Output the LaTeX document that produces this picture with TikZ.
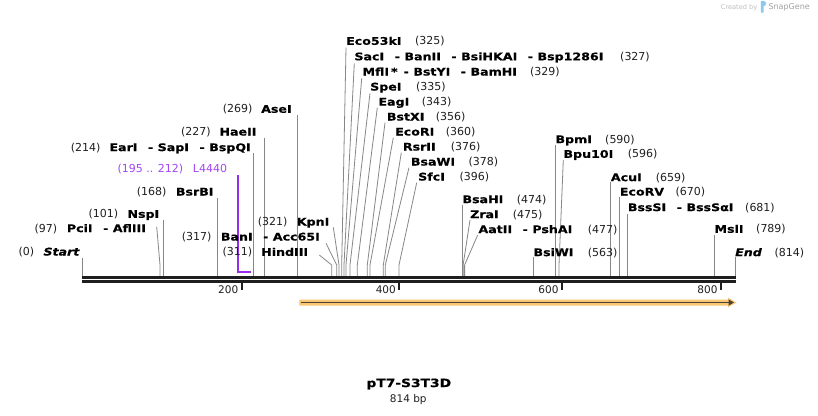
\documentclass[tikz,border=0pt]{standalone}
\usepackage{fontspec}
\setmainfont{DejaVu Sans}
\newfontfamily\enzfont{DejaVu Sans}[FakeStretch=1.2, BoldFeatures={FakeBold=0.6}, BoldItalicFeatures={FakeBold=0.6}]
\usetikzlibrary{arrows.meta}
\definecolor{leadgray}{RGB}{135,135,135}
\definecolor{axisdark}{RGB}{30,30,30}
\definecolor{purp}{RGB}{165,70,240}
\definecolor{purpline}{RGB}{150,45,235}
\definecolor{featorange}{RGB}{250,200,115}
\definecolor{featdark}{RGB}{75,65,55}
\definecolor{logogray}{RGB}{190,190,190}
\definecolor{logoblue}{RGB}{140,200,240}
\tikzset{
  enz/.style={inner sep=0pt, anchor=west, text height=7.6pt, text depth=0pt,
    font=\enzfont\fontsize{10.5}{12}\selectfont\bfseries},
  enzit/.style={enz, font=\enzfont\fontsize{10.5}{12}\selectfont\bfseries\itshape},
  num/.style={inner sep=0pt, anchor=west, text height=7.6pt, text depth=0pt,
    font=\fontsize{11}{12}\selectfont, text=black!88},
  ticklab/.style={inner sep=0pt, anchor=east, text height=7.6pt, text depth=0pt,
    font=\fontsize{10.5}{12}\selectfont, text=black!88},
  lead/.style={draw=leadgray, line width=0.8pt},
  axisline/.style={draw=axisdark, line width=2.6pt},
  tickline/.style={draw=axisdark, line width=1.8pt},
}
\newcommand\dsh{\hspace{10.5pt}-\hspace{4.5pt}}
\newcommand\mysite[4]{%
  \coordinate (#1-top) at (#3,#4);
  \coordinate (#1-cut) at (#2,276);
  \draw[lead] (#1-top) -- ([yshift=11pt]#1-cut) -- (#1-cut);}
\begin{document}
\begin{tikzpicture}[x=1pt,y=-1pt]
\fill[white] (0,0) rectangle (818,415);
\useasboundingbox (0,0) rectangle (818,415);

% logo
\node[inner sep=0pt, anchor=west, font=\fontsize{6.6}{8}\selectfont, text=logogray] (createdby) at (720.7,7.3) {Created by};
\fill[logoblue] (760.8,12.7) -- (760.8,1) -- (763.5,1) arc[start angle=90, end angle=-90, radius=2.6pt] -- (763.5,12.7) -- cycle;
\node[inner sep=0pt, anchor=west, font=\fontsize{8}{9}\selectfont, text=logogray!85!black] (snapgene) at (768.3,7.3) {SnapGene};

% leader lines
\mysite{start}{82.3}{82.3}{258}
\mysite{pci}{160}{156.7}{226.7}
\mysite{nsp}{163.3}{163.3}{220}
\mysite{bsrbi}{217.3}{217.3}{197.7}
\mysite{ear}{253.3}{253.3}{153}
\mysite{hae}{264.3}{264.3}{137.7}
\mysite{ase}{297.3}{297.3}{115}
\mysite{hind}{331.7}{319.3}{255}
\mysite{ban}{336.7}{326}{243.3}
\mysite{kpn}{339}{333.3}{227.3}
\mysite{ecofs}{341.7}{346}{47.7}
\mysite{sac}{344}{354.3}{63.3}
\mysite{mfl}{346}{361.7}{78.3}
\mysite{spe}{350}{370}{93.3}
\mysite{eag}{357.3}{377.3}{107.7}
\mysite{bstx}{367.3}{385}{122.7}
\mysite{ecori}{370}{393.3}{137.7}
\mysite{rsr}{383.3}{401.3}{152.7}
\mysite{bsaw}{385.3}{409}{167.7}
\mysite{sfc}{399}{416.7}{182.7}
\mysite{bsah}{462.3}{462.3}{205}
\mysite{zra}{463.1}{470}{220}
\mysite{aat}{464.6}{477.7}{235}
\mysite{bsiw}{533.3}{533.3}{256.7}
\mysite{bpm}{555.3}{555.3}{145}
\mysite{bpu}{559}{563.3}{160}
\mysite{acu}{610.7}{610.7}{182.3}
\mysite{ecorv}{619.7}{619.7}{197.3}
\mysite{bsss}{627.7}{627.7}{214}
\mysite{msl}{714.3}{714.3}{235}
\mysite{end}{735.7}{735.7}{256.7}

% L4440 bracket
\coordinate (l-top) at (237.7,175);
\coordinate (l-end) at (250.7,272.2);
\draw[purpline, line width=1.7pt] (l-top) -- (l-top |- l-end) -- (l-end);

% axis
\coordinate (ax-l) at (82,277.3);
\coordinate (ax-r) at (735.7,277.3);
\draw[axisline] (ax-l) -- (ax-r);
\draw[axisline] ([yshift=-4.2pt]ax-l) -- ([yshift=-4.2pt]ax-r);
\foreach \tx/\tl in {241.7/200, 399.3/400, 562/600, 721/800}{
  \draw[tickline] (\tx,283) -- (\tx,290);
  \node[ticklab] (tick\tl) at (\tx-3.3,289.3) {\tl};
}

% feature arrow
\fill[featorange] (299.3,299.5) -- (728,299.5) -- (728,297.8) -- (736.5,302.5) -- (728,307.2) -- (728,305.5) -- (299.3,305.5) -- cycle;
\draw[featdark, line width=1.8pt, -{Triangle[length=5.5pt,width=6pt]}] (300.5,302.5) -- (734,302.5);

% left labels
\node[num] (n-start) at (18.3,251.7) {(0)};
\node[enzit] (start) at (43.3,251.7) {Start};
\node[num] (n-pci) at (34.3,228.3) {(97)};
\node[enz] (pci) at (66.7,228.3) {PciI\dsh AflIII};
\node[num] (n-nsp) at (88.3,214) {(101)};
\node[enz] (nsp) at (127.3,214) {NspI};
\node[num] (n-bsrbi) at (136.7,191.7) {(168)};
\node[enz] (bsrbi) at (175.7,191.7) {BsrBI};
\node[num, text=purp] (n-l4440) at (117.3,169) {(195 .. 212)};
\node[num, text=purp] (l4440) at (192.7,169) {L4440};
\node[num] (n-ear) at (70.7,147.3) {(214)};
\node[enz] (ear) at (109.3,147.3) {EarI\dsh SapI\dsh BspQI};
\node[num] (n-hae) at (181,131.7) {(227)};
\node[enz] (hae) at (219.3,131.7) {HaeII};
\node[num] (n-ase) at (222.7,109) {(269)};
\node[enz] (ase) at (261,109) {AseI};
\node[num] (n-ban) at (181.7,236.7) {(317)};
\node[enz] (ban) at (220.7,236.7) {BanI\dsh Acc65I};
\node[num] (n-hind) at (222.3,252) {(311)};
\node[enz] (hind) at (261,252) {HindIII};
\node[num] (n-kpn) at (257.7,221.7) {(321)};
\node[enz] (kpn) at (296.7,221.7) {KpnI};

% right labels
\node[enz] (ecofs) at (346,41) {Eco53kI};
\node[num] (n-ecofs) at (415,41) {(325)};
\node[enz] (sac) at (354.3,56.5) {SacI\dsh BanII\dsh BsiHKAI\dsh Bsp1286I};
\node[num] (n-sac) at (620,56.5) {(327)};
\node[enz] (mfl) at (362.3,71.7) {MflI\hspace{2pt}*\hspace{6pt}-\hspace{4.5pt}BstYI\dsh BamHI};
\node[num] (n-mfl) at (530,71.7) {(329)};
\node[enz] (spe) at (370,86.7) {SpeI};
\node[num] (n-spe) at (416,86.7) {(335)};
\node[enz] (eag) at (378.3,101.8) {EagI};
\node[num] (n-eag) at (421.7,101.8) {(343)};
\node[enz] (bstx) at (386.7,116.7) {BstXI};
\node[num] (n-bstx) at (435.7,116.7) {(356)};
\node[enz] (ecori) at (395,131.7) {EcoRI};
\node[num] (n-ecori) at (445.7,131.7) {(360)};
\node[enz] (rsr) at (402.7,146.7) {RsrII};
\node[num] (n-rsr) at (450.7,146.7) {(376)};
\node[enz] (bsaw) at (410.7,161.7) {BsaWI};
\node[num] (n-bsaw) at (468.3,161.7) {(378)};
\node[enz] (sfc) at (418,176.7) {SfcI};
\node[num] (n-sfc) at (459.3,176.7) {(396)};
\node[enz] (bsah) at (462.3,199.3) {BsaHI};
\node[num] (n-bsah) at (516.7,199.3) {(474)};
\node[enz] (zra) at (470,214.3) {ZraI};
\node[num] (n-zra) at (512.7,214.3) {(475)};
\node[enz] (aat) at (478.3,229.3) {AatII\dsh PshAI};
\node[num] (n-aat) at (587.7,229.3) {(477)};
\node[enz] (bsiw) at (533.3,252.3) {BsiWI};
\node[num] (n-bsiw) at (587.7,252.3) {(563)};
\node[enz] (bpm) at (555.3,139.3) {BpmI};
\node[num] (n-bpm) at (605,139.3) {(590)};
\node[enz] (bpu) at (563.3,154) {Bpu10I};
\node[num] (n-bpu) at (627.7,154) {(596)};
\node[enz] (acu) at (610.7,177.3) {AcuI};
\node[num] (n-acu) at (655.7,177.3) {(659)};
\node[enz] (ecorv) at (619.7,191.7) {EcoRV};
\node[num] (n-ecorv) at (675.3,191.7) {(670)};
\node[enz] (bsss) at (627.7,207.3) {BssSI\dsh BssSαI};
\node[num] (n-bsss) at (745,207.3) {(681)};
\node[enz] (msl) at (714.3,229) {MslI};
\node[num] (n-msl) at (756,229) {(789)};
\node[enzit] (end) at (735,252.3) {End};
\node[num] (n-end) at (774.3,252.3) {(814)};

% title
\node[inner sep=0pt, font=\enzfont\fontsize{11.5}{13}\selectfont\bfseries] (title) at (408.8,384) {pT7-S3T3D};
\node[inner sep=0pt, font=\fontsize{10.5}{12}\selectfont, text=black!88] (bp) at (408.3,399.5) {814 bp};
\end{tikzpicture}
\end{document}
